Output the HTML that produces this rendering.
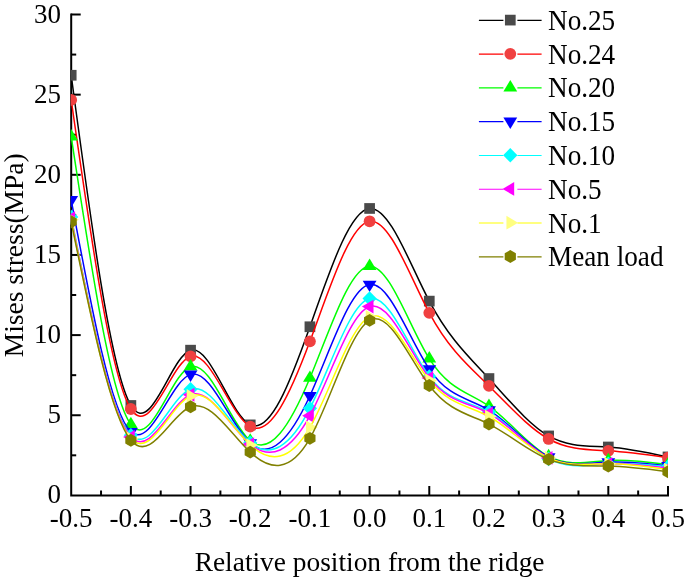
<!DOCTYPE html>
<html><head><meta charset="utf-8"><style>
html,body{margin:0;padding:0;background:#fff;}
svg{display:block;will-change:transform;}
text{font-family:"Liberation Serif",serif;font-size:27px;fill:#000;}
</style></head><body>
<svg width="685" height="580" viewBox="0 0 685 580">
<defs><clipPath id="pa"><rect x="70.7" y="0" width="597.3" height="496"/></clipPath></defs>

<path d="M71.2,14.55 V495.5 H668" fill="none" stroke="#000" stroke-width="2" stroke-linecap="square"/>
<line x1="71.2" y1="455.32" x2="76.20" y2="455.32" stroke="#000" stroke-width="2"/>
<line x1="71.2" y1="415.25" x2="80.70" y2="415.25" stroke="#000" stroke-width="2"/>
<line x1="71.2" y1="375.17" x2="76.20" y2="375.17" stroke="#000" stroke-width="2"/>
<line x1="71.2" y1="335.10" x2="80.70" y2="335.10" stroke="#000" stroke-width="2"/>
<line x1="71.2" y1="295.02" x2="76.20" y2="295.02" stroke="#000" stroke-width="2"/>
<line x1="71.2" y1="254.95" x2="80.70" y2="254.95" stroke="#000" stroke-width="2"/>
<line x1="71.2" y1="214.87" x2="76.20" y2="214.87" stroke="#000" stroke-width="2"/>
<line x1="71.2" y1="174.80" x2="80.70" y2="174.80" stroke="#000" stroke-width="2"/>
<line x1="71.2" y1="134.72" x2="76.20" y2="134.72" stroke="#000" stroke-width="2"/>
<line x1="71.2" y1="94.65" x2="80.70" y2="94.65" stroke="#000" stroke-width="2"/>
<line x1="71.2" y1="54.57" x2="76.20" y2="54.57" stroke="#000" stroke-width="2"/>
<line x1="71.2" y1="14.50" x2="80.70" y2="14.50" stroke="#000" stroke-width="2"/>
<line x1="101.04" y1="495.5" x2="101.04" y2="490.50" stroke="#000" stroke-width="2"/>
<line x1="130.88" y1="495.5" x2="130.88" y2="486.00" stroke="#000" stroke-width="2"/>
<line x1="160.72" y1="495.5" x2="160.72" y2="490.50" stroke="#000" stroke-width="2"/>
<line x1="190.56" y1="495.5" x2="190.56" y2="486.00" stroke="#000" stroke-width="2"/>
<line x1="220.40" y1="495.5" x2="220.40" y2="490.50" stroke="#000" stroke-width="2"/>
<line x1="250.24" y1="495.5" x2="250.24" y2="486.00" stroke="#000" stroke-width="2"/>
<line x1="280.08" y1="495.5" x2="280.08" y2="490.50" stroke="#000" stroke-width="2"/>
<line x1="309.92" y1="495.5" x2="309.92" y2="486.00" stroke="#000" stroke-width="2"/>
<line x1="339.76" y1="495.5" x2="339.76" y2="490.50" stroke="#000" stroke-width="2"/>
<line x1="369.60" y1="495.5" x2="369.60" y2="486.00" stroke="#000" stroke-width="2"/>
<line x1="399.44" y1="495.5" x2="399.44" y2="490.50" stroke="#000" stroke-width="2"/>
<line x1="429.28" y1="495.5" x2="429.28" y2="486.00" stroke="#000" stroke-width="2"/>
<line x1="459.12" y1="495.5" x2="459.12" y2="490.50" stroke="#000" stroke-width="2"/>
<line x1="488.96" y1="495.5" x2="488.96" y2="486.00" stroke="#000" stroke-width="2"/>
<line x1="518.80" y1="495.5" x2="518.80" y2="490.50" stroke="#000" stroke-width="2"/>
<line x1="548.64" y1="495.5" x2="548.64" y2="486.00" stroke="#000" stroke-width="2"/>
<line x1="578.48" y1="495.5" x2="578.48" y2="490.50" stroke="#000" stroke-width="2"/>
<line x1="608.32" y1="495.5" x2="608.32" y2="486.00" stroke="#000" stroke-width="2"/>
<line x1="638.16" y1="495.5" x2="638.16" y2="490.50" stroke="#000" stroke-width="2"/>
<line x1="668.00" y1="495.5" x2="668.00" y2="486.00" stroke="#000" stroke-width="2"/>
<g clip-path="url(#pa)">
<path d="M71.20,75.25 C91.09,223.85 110.99,372.44 130.88,405.47 C150.77,438.51 170.67,355.98 190.56,350.17 C210.45,344.35 230.35,415.25 250.24,424.87 C270.13,434.48 290.03,382.82 309.92,326.76 C329.81,270.71 349.71,210.26 369.60,208.46 C389.49,206.66 409.39,263.51 429.28,301.12 C449.17,338.72 469.07,357.10 488.96,378.54 C508.85,399.99 528.75,424.51 548.64,435.93 C568.53,447.35 588.43,445.67 608.32,446.99 C628.21,448.31 648.11,452.62 668.00,456.93" fill="none" stroke="#000000" stroke-width="1.5"/>
<rect x="65.85" y="69.90" width="10.7" height="10.7" fill="#4a4a4a"/>
<rect x="125.53" y="400.12" width="10.7" height="10.7" fill="#4a4a4a"/>
<rect x="185.21" y="344.82" width="10.7" height="10.7" fill="#4a4a4a"/>
<rect x="244.89" y="419.52" width="10.7" height="10.7" fill="#4a4a4a"/>
<rect x="304.57" y="321.41" width="10.7" height="10.7" fill="#4a4a4a"/>
<rect x="364.25" y="203.11" width="10.7" height="10.7" fill="#4a4a4a"/>
<rect x="423.93" y="295.77" width="10.7" height="10.7" fill="#4a4a4a"/>
<rect x="483.61" y="373.19" width="10.7" height="10.7" fill="#4a4a4a"/>
<rect x="543.29" y="430.58" width="10.7" height="10.7" fill="#4a4a4a"/>
<rect x="602.97" y="441.64" width="10.7" height="10.7" fill="#4a4a4a"/>
<rect x="662.65" y="451.58" width="10.7" height="10.7" fill="#4a4a4a"/>
<path d="M71.20,99.94 C91.09,239.04 110.99,378.13 130.88,409.00 C150.77,439.86 170.67,362.50 190.56,356.42 C210.45,350.34 230.35,415.54 250.24,426.63 C270.13,437.72 290.03,394.70 309.92,341.35 C329.81,288.01 349.71,224.34 369.60,221.29 C389.49,218.23 409.39,275.78 429.28,312.82 C449.17,349.86 469.07,366.40 488.96,385.92 C508.85,405.43 528.75,427.93 548.64,438.97 C568.53,450.02 588.43,449.62 608.32,450.84 C628.21,452.05 648.11,454.89 668.00,457.73" fill="none" stroke="#ff0000" stroke-width="1.5"/>
<circle cx="71.20" cy="99.94" r="5.9" fill="#f04040"/>
<circle cx="130.88" cy="409.00" r="5.9" fill="#f04040"/>
<circle cx="190.56" cy="356.42" r="5.9" fill="#f04040"/>
<circle cx="250.24" cy="426.63" r="5.9" fill="#f04040"/>
<circle cx="309.92" cy="341.35" r="5.9" fill="#f04040"/>
<circle cx="369.60" cy="221.29" r="5.9" fill="#f04040"/>
<circle cx="429.28" cy="312.82" r="5.9" fill="#f04040"/>
<circle cx="488.96" cy="385.92" r="5.9" fill="#f04040"/>
<circle cx="548.64" cy="438.97" r="5.9" fill="#f04040"/>
<circle cx="608.32" cy="450.84" r="5.9" fill="#f04040"/>
<circle cx="668.00" cy="457.73" r="5.9" fill="#f04040"/>
<path d="M71.20,136.65 C91.09,267.26 110.99,397.87 130.88,424.39 C150.77,450.90 170.67,373.32 190.56,366.68 C210.45,360.04 230.35,424.36 250.24,440.74 C270.13,457.12 290.03,425.57 309.92,378.06 C329.81,330.55 349.71,267.08 369.60,266.17 C389.49,265.27 409.39,326.93 429.28,358.66 C449.17,390.40 469.07,392.21 488.96,406.11 C508.85,420.02 528.75,446.03 548.64,456.45 C568.53,466.86 588.43,461.69 608.32,460.45 C628.21,459.22 648.11,461.92 668.00,464.62" fill="none" stroke="#00ff00" stroke-width="1.5"/>
<polygon points="71.20,129.05 64.30,140.45 78.10,140.45" fill="#00ff00"/>
<polygon points="130.88,416.79 123.98,428.19 137.78,428.19" fill="#00ff00"/>
<polygon points="190.56,359.08 183.66,370.48 197.46,370.48" fill="#00ff00"/>
<polygon points="250.24,433.14 243.34,444.54 257.14,444.54" fill="#00ff00"/>
<polygon points="309.92,370.46 303.02,381.86 316.82,381.86" fill="#00ff00"/>
<polygon points="369.60,258.57 362.70,269.97 376.50,269.97" fill="#00ff00"/>
<polygon points="429.28,351.06 422.38,362.46 436.18,362.46" fill="#00ff00"/>
<polygon points="488.96,398.51 482.06,409.91 495.86,409.91" fill="#00ff00"/>
<polygon points="548.64,448.85 541.74,460.25 555.54,460.25" fill="#00ff00"/>
<polygon points="608.32,452.85 601.42,464.25 615.22,464.25" fill="#00ff00"/>
<polygon points="668.00,457.02 661.10,468.42 674.90,468.42" fill="#00ff00"/>
<path d="M71.20,199.81 C91.09,306.52 110.99,413.23 130.88,431.76 C150.77,450.29 170.67,380.63 190.56,374.37 C210.45,368.12 230.35,425.27 250.24,442.98 C270.13,460.70 290.03,438.98 309.92,395.69 C329.81,352.41 349.71,287.57 369.60,284.45 C389.49,281.32 409.39,339.93 429.28,369.08 C449.17,398.24 469.07,397.95 488.96,410.12 C508.85,422.29 528.75,446.91 548.64,457.09 C568.53,467.27 588.43,463.00 608.32,462.06 C628.21,461.12 648.11,463.51 668.00,465.90" fill="none" stroke="#0000ff" stroke-width="1.5"/>
<polygon points="71.20,207.41 64.30,196.01 78.10,196.01" fill="#0000ff"/>
<polygon points="130.88,439.36 123.98,427.96 137.78,427.96" fill="#0000ff"/>
<polygon points="190.56,381.97 183.66,370.57 197.46,370.57" fill="#0000ff"/>
<polygon points="250.24,450.58 243.34,439.18 257.14,439.18" fill="#0000ff"/>
<polygon points="309.92,403.29 303.02,391.89 316.82,391.89" fill="#0000ff"/>
<polygon points="369.60,292.05 362.70,280.65 376.50,280.65" fill="#0000ff"/>
<polygon points="429.28,376.68 422.38,365.28 436.18,365.28" fill="#0000ff"/>
<polygon points="488.96,417.72 482.06,406.32 495.86,406.32" fill="#0000ff"/>
<polygon points="548.64,464.69 541.74,453.29 555.54,453.29" fill="#0000ff"/>
<polygon points="608.32,469.66 601.42,458.26 615.22,458.26" fill="#0000ff"/>
<polygon points="668.00,473.50 661.10,462.10 674.90,462.10" fill="#0000ff"/>
<path d="M71.20,216.96 C91.09,316.07 110.99,415.18 130.88,435.29 C150.77,455.40 170.67,396.50 190.56,389.28 C210.45,382.06 230.35,426.52 250.24,442.82 C270.13,459.12 290.03,447.27 309.92,408.36 C329.81,369.45 349.71,303.48 369.60,298.55 C389.49,293.62 409.39,349.72 429.28,376.46 C449.17,403.20 469.07,400.58 488.96,411.88 C508.85,423.19 528.75,448.41 548.64,458.85 C568.53,469.29 588.43,464.95 608.32,463.82 C628.21,462.69 648.11,464.78 668.00,466.87" fill="none" stroke="#00ffff" stroke-width="1.5"/>
<polygon points="71.20,209.66 78.30,216.96 71.20,224.26 64.10,216.96" fill="#00ffff"/>
<polygon points="130.88,427.99 137.98,435.29 130.88,442.59 123.78,435.29" fill="#00ffff"/>
<polygon points="190.56,381.98 197.66,389.28 190.56,396.58 183.46,389.28" fill="#00ffff"/>
<polygon points="250.24,435.52 257.34,442.82 250.24,450.12 243.14,442.82" fill="#00ffff"/>
<polygon points="309.92,401.06 317.02,408.36 309.92,415.66 302.82,408.36" fill="#00ffff"/>
<polygon points="369.60,291.25 376.70,298.55 369.60,305.85 362.50,298.55" fill="#00ffff"/>
<polygon points="429.28,369.16 436.38,376.46 429.28,383.76 422.18,376.46" fill="#00ffff"/>
<polygon points="488.96,404.58 496.06,411.88 488.96,419.18 481.86,411.88" fill="#00ffff"/>
<polygon points="548.64,451.55 555.74,458.85 548.64,466.15 541.54,458.85" fill="#00ffff"/>
<polygon points="608.32,456.52 615.42,463.82 608.32,471.12 601.22,463.82" fill="#00ffff"/>
<polygon points="668.00,459.57 675.10,466.87 668.00,474.17 660.90,466.87" fill="#00ffff"/>
<path d="M71.20,218.08 C91.09,316.79 110.99,415.51 130.88,436.89 C150.77,458.27 170.67,402.32 190.56,394.73 C210.45,387.14 230.35,427.90 250.24,444.26 C270.13,460.63 290.03,452.59 309.92,415.73 C329.81,378.88 349.71,313.20 369.60,306.57 C389.49,299.93 409.39,352.33 429.28,377.90 C449.17,403.47 469.07,402.22 488.96,413.33 C508.85,424.44 528.75,447.91 548.64,457.89 C568.53,467.87 588.43,464.36 608.32,463.82 C628.21,463.28 648.11,465.72 668.00,468.15" fill="none" stroke="#ff00ff" stroke-width="1.5"/>
<polygon points="63.47,218.08 75.07,211.18 75.07,224.98" fill="#ff00ff"/>
<polygon points="123.15,436.89 134.75,429.99 134.75,443.79" fill="#ff00ff"/>
<polygon points="182.83,394.73 194.43,387.83 194.43,401.63" fill="#ff00ff"/>
<polygon points="242.51,444.26 254.11,437.36 254.11,451.16" fill="#ff00ff"/>
<polygon points="302.19,415.73 313.79,408.83 313.79,422.63" fill="#ff00ff"/>
<polygon points="361.87,306.57 373.47,299.67 373.47,313.47" fill="#ff00ff"/>
<polygon points="421.55,377.90 433.15,371.00 433.15,384.80" fill="#ff00ff"/>
<polygon points="481.23,413.33 492.83,406.43 492.83,420.23" fill="#ff00ff"/>
<polygon points="540.91,457.89 552.51,450.99 552.51,464.79" fill="#ff00ff"/>
<polygon points="600.59,463.82 612.19,456.92 612.19,470.72" fill="#ff00ff"/>
<polygon points="660.27,468.15 671.87,461.25 671.87,475.05" fill="#ff00ff"/>
<path d="M71.20,219.68 C91.09,318.42 110.99,417.15 130.88,438.65 C150.77,460.16 170.67,404.42 190.56,396.01 C210.45,387.60 230.35,426.51 250.24,445.07 C270.13,463.62 290.03,461.81 309.92,427.43 C329.81,393.05 349.71,326.10 369.60,316.83 C389.49,307.55 409.39,355.96 429.28,380.46 C449.17,404.97 469.07,405.58 488.96,416.53 C508.85,427.49 528.75,448.79 548.64,457.89 C568.53,466.99 588.43,463.90 608.32,463.82 C628.21,463.74 648.11,466.67 668.00,469.59" fill="none" stroke="#ffff00" stroke-width="1.5"/>
<polygon points="78.93,219.68 67.33,212.78 67.33,226.58" fill="#ffff80"/>
<polygon points="138.61,438.65 127.01,431.75 127.01,445.55" fill="#ffff80"/>
<polygon points="198.29,396.01 186.69,389.11 186.69,402.91" fill="#ffff80"/>
<polygon points="257.97,445.07 246.37,438.17 246.37,451.97" fill="#ffff80"/>
<polygon points="317.65,427.43 306.05,420.53 306.05,434.33" fill="#ffff80"/>
<polygon points="377.33,316.83 365.73,309.93 365.73,323.73" fill="#ffff80"/>
<polygon points="437.01,380.46 425.41,373.56 425.41,387.36" fill="#ffff80"/>
<polygon points="496.69,416.53 485.09,409.63 485.09,423.43" fill="#ffff80"/>
<polygon points="556.37,457.89 544.77,450.99 544.77,464.79" fill="#ffff80"/>
<polygon points="616.05,463.82 604.45,456.92 604.45,470.72" fill="#ffff80"/>
<polygon points="675.73,469.59 664.13,462.69 664.13,476.49" fill="#ffff80"/>
<path d="M71.20,221.77 C91.09,319.10 110.99,416.44 130.88,440.26 C150.77,464.07 170.67,414.37 190.56,406.75 C210.45,399.14 230.35,433.62 250.24,452.12 C270.13,470.62 290.03,473.13 309.92,438.33 C329.81,403.54 349.71,331.43 369.60,320.35 C389.49,309.27 409.39,359.22 429.28,385.43 C449.17,411.65 469.07,414.12 488.96,424.07 C508.85,434.01 528.75,451.44 548.64,459.33 C568.53,467.23 588.43,465.60 608.32,466.07 C628.21,466.53 648.11,469.10 668.00,471.68" fill="none" stroke="#808000" stroke-width="1.5"/>
<polygon points="71.20,215.32 65.61,218.54 65.61,224.99 71.20,228.22 76.79,224.99 76.79,218.54" fill="#808000"/>
<polygon points="130.88,433.81 125.29,437.03 125.29,443.48 130.88,446.71 136.47,443.48 136.47,437.03" fill="#808000"/>
<polygon points="190.56,400.30 184.97,403.53 184.97,409.98 190.56,413.20 196.15,409.98 196.15,403.53" fill="#808000"/>
<polygon points="250.24,445.67 244.65,448.89 244.65,455.34 250.24,458.57 255.83,455.34 255.83,448.89" fill="#808000"/>
<polygon points="309.92,431.88 304.33,435.11 304.33,441.56 309.92,444.78 315.51,441.56 315.51,435.11" fill="#808000"/>
<polygon points="369.60,313.90 364.01,317.13 364.01,323.58 369.60,326.80 375.19,323.58 375.19,317.13" fill="#808000"/>
<polygon points="429.28,378.98 423.69,382.21 423.69,388.66 429.28,391.88 434.87,388.66 434.87,382.21" fill="#808000"/>
<polygon points="488.96,417.62 483.37,420.84 483.37,427.29 488.96,430.52 494.55,427.29 494.55,420.84" fill="#808000"/>
<polygon points="548.64,452.88 543.05,456.11 543.05,462.56 548.64,465.78 554.23,462.56 554.23,456.11" fill="#808000"/>
<polygon points="608.32,459.62 602.73,462.84 602.73,469.29 608.32,472.52 613.91,469.29 613.91,462.84" fill="#808000"/>
<polygon points="668.00,465.23 662.41,468.45 662.41,474.90 668.00,478.13 673.59,474.90 673.59,468.45" fill="#808000"/>
</g>
<text transform="translate(60.9,503.40) scale(1,1.045)" text-anchor="end">0</text>
<text transform="translate(60.9,423.25) scale(1,1.045)" text-anchor="end">5</text>
<text transform="translate(60.9,343.10) scale(1,1.045)" text-anchor="end">10</text>
<text transform="translate(60.9,262.95) scale(1,1.045)" text-anchor="end">15</text>
<text transform="translate(60.9,182.80) scale(1,1.045)" text-anchor="end">20</text>
<text transform="translate(60.9,102.65) scale(1,1.045)" text-anchor="end">25</text>
<text transform="translate(60.9,22.50) scale(1,1.045)" text-anchor="end">30</text>
<text transform="translate(71.20,527.2) scale(1,1.045)" text-anchor="middle">-0.5</text>
<text transform="translate(130.88,527.2) scale(1,1.045)" text-anchor="middle">-0.4</text>
<text transform="translate(190.56,527.2) scale(1,1.045)" text-anchor="middle">-0.3</text>
<text transform="translate(250.24,527.2) scale(1,1.045)" text-anchor="middle">-0.2</text>
<text transform="translate(309.92,527.2) scale(1,1.045)" text-anchor="middle">-0.1</text>
<text transform="translate(369.60,527.2) scale(1,1.045)" text-anchor="middle">0.0</text>
<text transform="translate(429.28,527.2) scale(1,1.045)" text-anchor="middle">0.1</text>
<text transform="translate(488.96,527.2) scale(1,1.045)" text-anchor="middle">0.2</text>
<text transform="translate(548.64,527.2) scale(1,1.045)" text-anchor="middle">0.3</text>
<text transform="translate(608.32,527.2) scale(1,1.045)" text-anchor="middle">0.4</text>
<text transform="translate(668.00,527.2) scale(1,1.045)" text-anchor="middle">0.5</text>
<text transform="translate(369.6,571.4) scale(1,1.03)" text-anchor="middle" style="font-size:27.4px">Relative position from the ridge</text>
<text transform="translate(23,255.3) rotate(-90) scale(1,1.02)" text-anchor="middle" style="font-size:27.5px">Mises stress(MPa)</text>
<path d="M478.9,20.40 H503.4 M517.4,20.40 H541.6" stroke="#000000" stroke-width="1.2"/>
<rect x="504.95" y="14.75" width="10.7" height="10.7" fill="#4a4a4a"/>
<text transform="translate(548,29.90) scale(1,1.05)" style="font-size:27.2px">No.25</text>
<path d="M478.9,54.17 H503.4 M517.4,54.17 H541.6" stroke="#ff0000" stroke-width="1.2"/>
<circle cx="510.30" cy="53.87" r="5.9" fill="#f04040"/>
<text transform="translate(548,63.67) scale(1,1.05)" style="font-size:27.2px">No.24</text>
<path d="M478.9,87.94 H503.4 M517.4,87.94 H541.6" stroke="#00ff00" stroke-width="1.2"/>
<polygon points="510.30,80.04 503.40,91.44 517.20,91.44" fill="#00ff00"/>
<text transform="translate(548,97.44) scale(1,1.05)" style="font-size:27.2px">No.20</text>
<path d="M478.9,121.71 H503.4 M517.4,121.71 H541.6" stroke="#0000ff" stroke-width="1.2"/>
<polygon points="510.30,129.01 503.40,117.61 517.20,117.61" fill="#0000ff"/>
<text transform="translate(548,131.21) scale(1,1.05)" style="font-size:27.2px">No.15</text>
<path d="M478.9,155.48 H503.4 M517.4,155.48 H541.6" stroke="#00ffff" stroke-width="1.2"/>
<polygon points="510.30,147.88 517.40,155.18 510.30,162.48 503.20,155.18" fill="#00ffff"/>
<text transform="translate(548,164.98) scale(1,1.05)" style="font-size:27.2px">No.10</text>
<path d="M478.9,189.25 H503.4 M517.4,189.25 H541.6" stroke="#ff00ff" stroke-width="1.2"/>
<polygon points="502.57,188.95 514.17,182.05 514.17,195.85" fill="#ff00ff"/>
<text transform="translate(548,198.75) scale(1,1.05)" style="font-size:27.2px">No.5</text>
<path d="M478.9,223.02 H503.4 M517.4,223.02 H541.6" stroke="#ffff00" stroke-width="1.2"/>
<polygon points="518.03,222.72 506.43,215.82 506.43,229.62" fill="#ffff80"/>
<text transform="translate(548,232.52) scale(1,1.05)" style="font-size:27.2px">No.1</text>
<path d="M478.9,256.79 H503.4 M517.4,256.79 H541.6" stroke="#808000" stroke-width="1.2"/>
<polygon points="510.30,250.04 504.71,253.27 504.71,259.72 510.30,262.94 515.89,259.72 515.89,253.27" fill="#808000"/>
<text transform="translate(548,266.29) scale(1,1.05)" style="font-size:27.2px">Mean load</text>
</svg></body></html>
